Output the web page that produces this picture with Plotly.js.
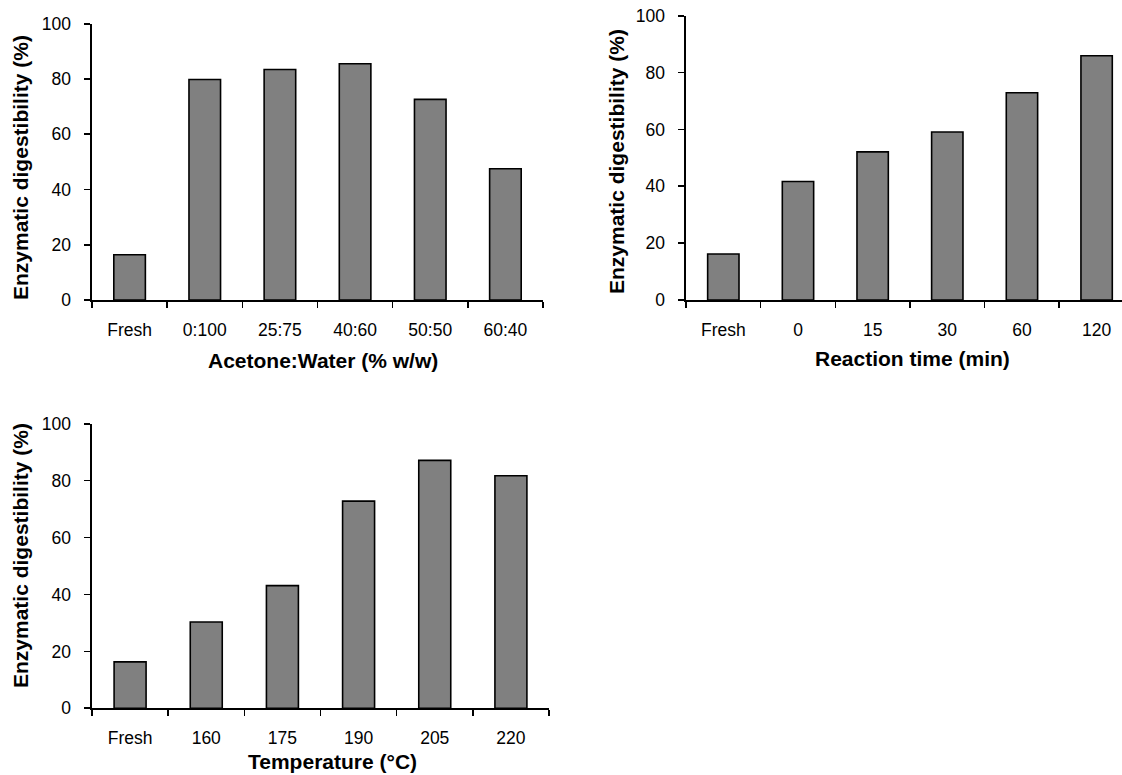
<!DOCTYPE html>
<html>
<head>
<meta charset="utf-8">
<script src="https://cdn.plot.ly/plotly-3.0.1.min.js"></script>
<style>
html,body{margin:0;padding:0;background:#fff;}
#chart{width:1122px;height:775px;}
</style>
</head>
<body>
<div id="chart"></div>
<script>
// Panel (a): solvent ratio
const solventCats = ["Fresh", "0:100", "25:75", "40:60", "50:50", "60:40"];
const solventVals = [16.4, 79.8, 83.4, 85.5, 72.6, 47.5];
// Panel (b): reaction time
const timeCats = ["Fresh", "0", "15", "30", "60", "120"];
const timeVals = [16.2, 41.7, 52.1, 59.1, 72.9, 85.9];
// Panel (c): temperature
const tempCats = ["Fresh", "160", "175", "190", "205", "220"];
const tempVals = [16.3, 30.3, 43.1, 72.8, 87.1, 81.7];

const yTitle = "Enzymatic digestibility (%)";
const xTitles = ["Acetone:Water (% w/w)", "Reaction time (min)", "Temperature (°C)"];

const W = 1122, H = 775;
const px = v => v / W;
const py = v => 1 - v / H;

const FONT = "Liberation Sans, Arial, sans-serif";
const tickFont = {family: FONT, size: 17.5, color: "#000"};
const titleFont = {family: FONT, size: 21, color: "#000", weight: "bold"};

function bar(x, y, xa, ya) {
  return {
    type: "bar", x: x, y: y, xaxis: xa, yaxis: ya,
    marker: {color: "#808080", line: {color: "#000", width: 1.6}},
    hoverinfo: "x+y", showlegend: false
  };
}

function xAxis(domain, anchor, range) {
  return {
    domain: domain, anchor: anchor, type: "category", range: range,
    showline: true, linecolor: "#000", linewidth: 1.6,
    ticks: "outside", ticklen: 6, tickwidth: 1.6, tickcolor: "#000",
    tickson: "boundaries", showgrid: false, zeroline: false,
    tickfont: tickFont, ticklabelstandoff: 13, fixedrange: true
  };
}
function yAxis(domain, anchor) {
  return {
    domain: domain, anchor: anchor, range: [0, 100], dtick: 20,
    showline: true, linecolor: "#000", linewidth: 1.6,
    ticks: "outside", ticklen: 6, tickwidth: 1.6, tickcolor: "#000",
    showgrid: false, zeroline: false, tickfont: tickFont,
    ticklabelstandoff: 10, fixedrange: true
  };
}

const data = [
  bar(solventCats, solventVals, "x", "y"),
  bar(timeCats, timeVals, "x2", "y2"),
  bar(tempCats, tempVals, "x3", "y3")
];

function ann(text, x, y, angle, yanchor) {
  return {text: text, xref: "paper", yref: "paper", x: px(x), y: py(y),
          xanchor: "center", yanchor: yanchor || "middle", showarrow: false,
          textangle: angle || 0, font: titleFont};
}

const layout = {
  width: W, height: H,
  margin: {l: 0, r: 0, t: 0, b: 0},
  paper_bgcolor: "#fff", plot_bgcolor: "#fff",
  bargap: 0.58,
  showlegend: false,
  xaxis: xAxis([px(92), px(543)], "y", [-0.5, 5.5]),
  yaxis: yAxis([py(300), py(23.7)], "x"),
  xaxis2: xAxis([px(686), 1], "y2", [-0.5, 5.34]),
  yaxis2: yAxis([py(300), py(15.7)], "x2"),
  xaxis3: xAxis([px(92), px(549)], "y3", [-0.5, 5.5]),
  yaxis3: yAxis([py(708.3), py(423.7)], "x3"),
  annotations: [
    ann(yTitle, 20, 168, -90),
    ann(yTitle, 617, 162, -90),
    ann(yTitle, 20, 556, -90),
    ann(xTitles[0], 323, 360),
    ann(xTitles[1], 912, 358),
    ann(xTitles[2], 332, 775, 0, "bottom")
  ]
};

Plotly.newPlot("chart", data, layout, {displayModeBar: false, staticPlot: true});
</script>
</body>
</html>
